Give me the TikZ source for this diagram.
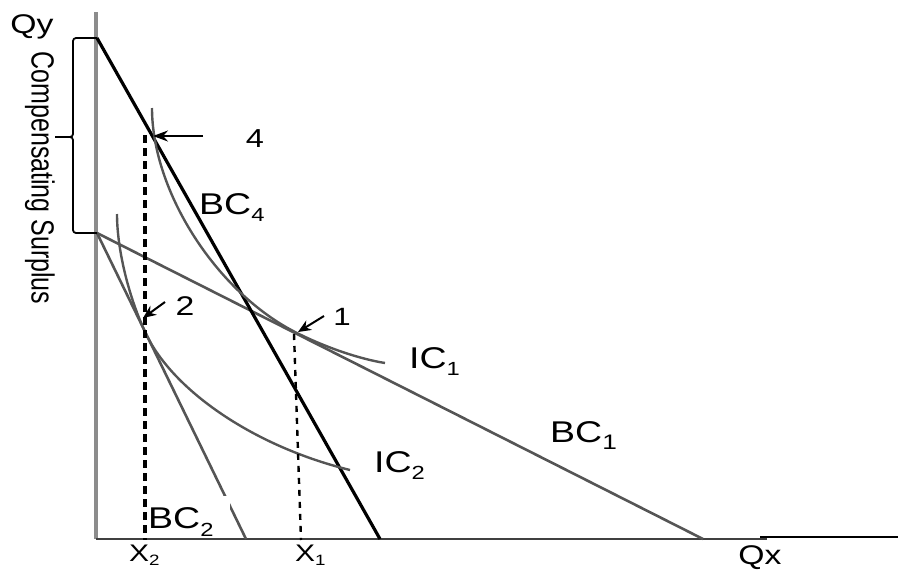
\documentclass[tikz,border=0pt]{standalone}
\usepackage{fontspec}
\setmainfont{Liberation Sans}
\usepackage{graphicx}
\usetikzlibrary{arrows.meta}
\definecolor{linegray}{RGB}{85,85,85}
\definecolor{axisgray}{RGB}{140,140,140}
\tikzset{
	defaultstyle/.style={
		>={Stealth[length=15pt,width=11pt]},
		x=1pt, y=-1pt,
		line join=round,
		every node/.style={inner sep=0pt}}}
\newcommand{\lbl}[2][30]{\scalebox{1.25}[1]{\fontsize{#1}{#1}\selectfont #2}}
\newcommand{\subs}[2][19]{\raisebox{-7.5pt}{\fontsize{#1}{#1}\selectfont #2}}

\begin{document}
\begin{tikzpicture}[defaultstyle,
	budget/.style={linegray, line width=2.6pt},
	indiff/.style={linegray, line width=2.4pt},
	guide/.style={black, line width=3.2pt, dash pattern=on 8pt off 5pt},
	pointer/.style={->, black, line width=2pt},
	]
	\useasboundingbox (0,0) rectangle (898,571);
	
	\coordinate (ytop) at (96,12);
	\coordinate (origin) at (96,539);
	\coordinate (xend) at (767,539);
	\coordinate (xa) at (760,537);
	\coordinate (xb) at (898,537);
	\draw[axisgray, line width=3.5pt] (ytop) -- (origin);
	\draw[black!75, line width=2.5pt] (origin) -- (xend);
	\draw[black, line width=2pt] (xa) -- (xb);
	
	\coordinate (b4top) at (97,38);
	\coordinate (b4end) at (380,539);
	\coordinate (b1top) at (97,233);
	\coordinate (b1end) at (703,539);
	\coordinate (b2end) at (246,539);
	\draw[budget] (b1top) -- (b1end);
	\draw[budget] (b1top) -- (b2end);
	\draw[black, line width=3.2pt] (b4top) -- (b4end);
	
	\draw[black, line width=1.8pt, rounded corners=3pt] (b4top) -- (73,38) -- (73,137) -- (55,137);
	\draw[black, line width=1.8pt, rounded corners=3pt] (55,137) -- (73,137) -- (73,233) -- (b1top);
	
	\coordinate (ic1top) at (152,108);
	\coordinate (ic1tan) at (297,333);
	\coordinate (ic1end) at (385,363);
	\coordinate (ic2top) at (117,214);
	\coordinate (ic2tan) at (146,334);
	\coordinate (ic2end) at (350,470);
	\draw[indiff] (ic1top) .. controls (152,192) and (217,293) .. (ic1tan)
		.. controls (327,348) and (360,359) .. (ic1end);
	\draw[indiff] (ic2top) .. controls (117,250) and (129,298) .. (ic2tan)
		.. controls (174,392) and (256,447) .. (ic2end);
	
	\coordinate (d4) at (145,135);
	\coordinate (d2) at (145,540);
	\coordinate (d1) at (294,334);
	\coordinate (d1b) at (301,540);
	\draw[guide] (d4) -- (d2);
	\draw[guide, line width=2.4pt, dash pattern=on 6pt off 6pt] (d1) -- (d1b);
	
	\coordinate (t4) at (203,136);
	\coordinate (p4) at (153,136);
	\coordinate (t2) at (165,302);
	\coordinate (p2) at (143,318);
	\coordinate (t1) at (324,316);
	\coordinate (p1) at (298,332);
	\draw[pointer] (t4) -- (p4);
	\draw[pointer, >={Stealth[length=13pt,width=11pt]}] (t2) -- (p2);
	\draw[pointer, >={Stealth[length=13pt,width=11pt]}] (t1) -- (p1);
	
	\node[anchor=base] (n4) at (255,147) {\lbl[26]{4}};
	\node[anchor=base] (n2) at (185,315) {\lbl[27]{2}};
	\node[anchor=base] (n1) at (342,325) {\lbl[25]{1}};
	
	\node[anchor=base west] (bc4) at (199,214) {\lbl{BC\subs{4}}};
	\node[anchor=base west] (ic1) at (409,368) {\lbl{IC\subs{1}}};
	\node[anchor=base west] (bc1) at (550,442) {\lbl{BC\subs[21]{1}}};
	\node[anchor=base west] (ic2) at (374,472) {\lbl{IC\subs{2}}};
	\node[anchor=south west, fill=white, text height=33pt, text depth=9pt, text width=82pt] (bc2) at (148,538) {\lbl{BC\subs{2}}};
	
	\node[anchor=base] (qy) at (32,33) {\lbl[27]{Qy}};
	\node[anchor=base] (qx) at (760,564) {\lbl[27]{Qx}};
	\node[anchor=base west] (x2) at (129,561) {\lbl[24]{X\raisebox{-4pt}{\fontsize{15}{15}\selectfont 2}}};
	\node[anchor=base west] (x1) at (295,561) {\lbl[24]{X\raisebox{-4pt}{\fontsize{15}{15}\selectfont 1}}};
	
	\node[rotate=-90] (cs) at (40,178) {\scalebox{1}[1.28]{\fontsize{25}{25}\selectfont Compensating Surplus}};
	
\end{tikzpicture}
\end{document}
